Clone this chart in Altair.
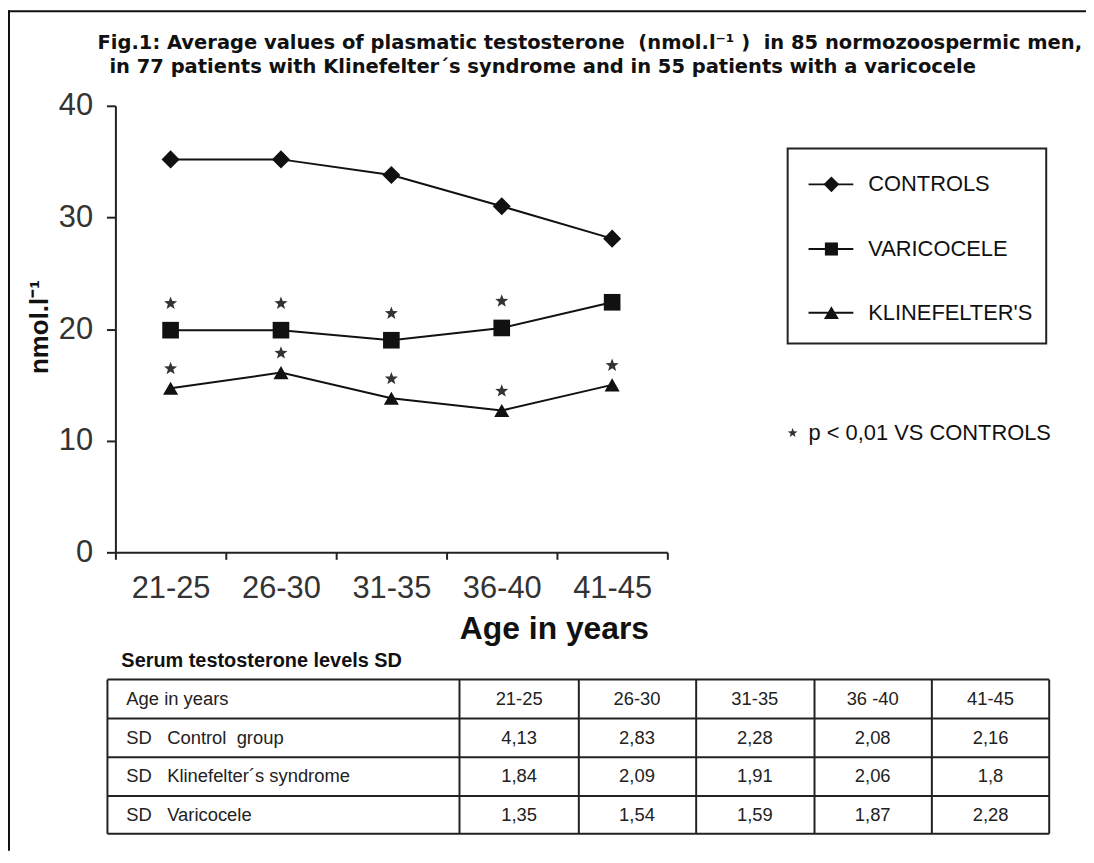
import math
import altair as alt
import pandas as pd

# ---------------- data ----------------
ages = ["21-25", "26-30", "31-35", "36-40", "41-45"]
series_names = ["CONTROLS", "VARICOCELE", "KLINEFELTER'S"]
controls = [35.2, 35.2, 33.8, 31.0, 28.1]
varicocele = [19.9, 19.9, 19.0, 20.1, 22.4]
klinefelter = [14.7, 16.1, 13.8, 12.7, 15.0]
sig_controls = [0, 0, 0, 0, 0]
sig_varicocele = [1, 1, 1, 1, 0]
sig_klinefelter = [1, 1, 1, 1, 1]

table_header = "Age in years"
table_cols = ["21-25", "26-30", "31-35", "36 -40", "41-45"]
table_rows = ["SD\u00a0\u00a0\u00a0Control\u00a0\u00a0group",
              "SD\u00a0\u00a0\u00a0Klinefelter\u00b4s syndrome",
              "SD\u00a0\u00a0\u00a0Varicocele"]
sd_control = [4.13, 2.83, 2.28, 2.08, 2.16]
sd_klinefelter = [1.84, 2.09, 1.91, 2.06, 1.8]
sd_varicocele = [1.35, 1.54, 1.59, 1.87, 2.28]

title_1 = ("Fig.1: Average values of plasmatic testosterone\u00a0\u00a0(nmol.l\u207b\u00b9\u00a0)"
           "\u00a0\u00a0in 85 normozoospermic men,")
title_2 = "in 77 patients with Klinefelter\u00b4s syndrome and in 55 patients with a varicocele"
table_title = "Serum testosterone levels SD"
footnote = "p < 0,01 VS CONTROLS"

# ---------------- style ----------------
FONT = "Liberation Sans, Arial, sans-serif"
TITLE_FONT = "DejaVu Sans, Liberation Sans, sans-serif"
INK = "#111111"
W, H = 555, 449
PAD_L, PAD_T = 108, 96
TOTAL_W, TOTAL_H = 1084, 845
shapes = ["diamond", "square", "triangle-up"]
sizes = [330, 230, 300]
star_offset = {"VARICOCELE": 2.4, "KLINEFELTER'S": 1.75}

pts = []
for k in range(10):
    r = 1.0 if k % 2 == 0 else 0.42
    a = math.radians(-90 + 36 * k)
    pts.append(f"{r*math.cos(a):.4f},{r*math.sin(a):.4f}")
STAR = "M" + "L".join(pts) + "Z"

rows = []
for name, vals, sigs in zip(series_names, [controls, varicocele, klinefelter],
                            [sig_controls, sig_varicocele, sig_klinefelter]):
    for a, v, s in zip(ages, vals, sigs):
        rows.append({"series": name, "age": a, "value": v, "sig": s})
df = pd.DataFrame(rows)
df["star_y"] = df.apply(lambda r: r["value"] + star_offset.get(r["series"], 0), axis=1)

one = pd.DataFrame({"d": [0]})

# ---------------- main plot ----------------
x_axis = alt.Axis(title="Age in years", labelAngle=0, labelFont=FONT, labelFontSize=31,
                  labelColor="#333333", labelPadding=14, tickBand="extent", tickSize=7,
                  tickColor="#222222", tickWidth=2, domainColor="#222222", domainWidth=2,
                  titleFont=FONT, titleFontSize=32, titleFontWeight="bold", titleColor=INK,
                  titleX=441, titleY=87, titleAlign="center", titleBaseline="alphabetic")
y_axis = alt.Axis(values=[0, 10, 20, 30, 40], grid=False, labelFont=FONT, labelFontSize=31,
                  labelColor="#333333", labelPadding=14, tickSize=9, tickColor="#222222",
                  tickWidth=2, domainColor="#222222", domainWidth=2,
                  title="nmol.l\u207b\u00b9", titleFont=FONT, titleFontSize=26,
                  titleFontWeight="bold", titleColor=INK, titleAngle=270, titleX=-76,
                  titleY=222, titleAlign="center", titleBaseline="middle")
x_scale = alt.Scale(type="band", paddingInner=0, paddingOuter=0)
y_scale = alt.Scale(domain=[0, 40], nice=False)
x_enc = alt.X("age:N", sort=ages, scale=x_scale, axis=x_axis)
y_enc = alt.Y("value:Q", scale=y_scale, axis=y_axis)

base = alt.Chart(df)
lines = base.mark_line(color=INK, strokeWidth=2).encode(x=x_enc, y=y_enc, detail="series:N")
points = base.mark_point(filled=True, opacity=1, color=INK).encode(
    x=x_enc, y=y_enc,
    shape=alt.Shape("series:N", scale=alt.Scale(domain=series_names, range=shapes), legend=None),
    size=alt.Size("series:O", scale=alt.Scale(domain=series_names, range=sizes), legend=None),
)
stars = base.transform_filter("datum.sig == 1").mark_point(
    shape=STAR, filled=True, opacity=1, color="#333333", size=190
).encode(x=x_enc, y=alt.Y("star_y:Q", scale=y_scale, axis=y_axis))
main = alt.layer(lines, points, stars)

# ---------------- table ----------------
cells = []
for c in table_cols:
    cells.append({"row": table_header, "col": c, "text": c})
for rlab, vals in zip(table_rows, [sd_control, sd_klinefelter, sd_varicocele]):
    for c, v in zip(table_cols, vals):
        cells.append({"row": rlab, "col": c, "text": f"{v}".replace(".", ",")})
cells_df = pd.DataFrame(cells)
row_order = [table_header] + table_rows
row_y = alt.Y("row:N", scale=alt.Scale(type="point", domain=row_order, range=[596.5, 713], padding=0),
              axis=None)
cell_text = alt.Chart(cells_df).mark_text(font=FONT, fontSize=18.5, color="#222222").encode(
    x=alt.X("col:N", scale=alt.Scale(type="point", domain=table_cols, range=[406, 880], padding=0),
            axis=None),
    y=row_y, text="text:N")
row_text = alt.Chart(pd.DataFrame({"row": row_order})).mark_text(
    font=FONT, fontSize=18.5, color="#222222", align="left").encode(
    x=alt.value(11), y=row_y, text="row:N")
table = alt.layer(cell_text, row_text)

deco = []
hy = [577, 616, 655, 694, 732]
vx = [-8, 346, 466, 584, 703, 821, 939]
for yy in hy:
    deco.append(alt.Chart(one).mark_rule(color="#222222", strokeWidth=2).encode(
        x=alt.value(vx[0]), x2=alt.value(vx[-1]), y=alt.value(yy)))
for xx in vx:
    deco.append(alt.Chart(one).mark_rule(color="#222222", strokeWidth=2).encode(
        x=alt.value(xx), y=alt.value(hy[0]), y2=alt.value(hy[-1])))
deco.append(alt.Chart(one).mark_text(font=FONT, fontSize=20, fontWeight="bold", color=INK,
                                     align="left", baseline="alphabetic").encode(
    x=alt.value(6), y=alt.value(564), text=alt.value(table_title)))

# ---------------- titles & frame ----------------
deco.append(alt.Chart(one).mark_text(font=TITLE_FONT, fontSize=19.6, fontWeight="bold", color=INK,
                                     align="left", baseline="alphabetic").encode(
    x=alt.value(-18), y=alt.value(-57), text=alt.value(title_1)))
deco.append(alt.Chart(one).mark_text(font=TITLE_FONT, fontSize=19.6, fontWeight="bold", color=INK,
                                     align="left", baseline="alphabetic").encode(
    x=alt.value(-6), y=alt.value(-33), text=alt.value(title_2)))
deco.append(alt.Chart(one).mark_rule(color=INK, strokeWidth=2).encode(
    x=alt.value(-PAD_L), x2=alt.value(TOTAL_W - PAD_L), y=alt.value(-PAD_T + 1)))
deco.append(alt.Chart(one).mark_rule(color=INK, strokeWidth=2).encode(
    x=alt.value(-PAD_L + 1), y=alt.value(-PAD_T), y2=alt.value(TOTAL_H - PAD_T)))

# ---------------- legend ----------------
deco.append(alt.Chart(one).mark_rect(fillOpacity=0, stroke="#222222", strokeWidth=2).encode(
    x=alt.value(676), x2=alt.value(936), y=alt.value(43), y2=alt.value(239)))
leg_y = [79, 144, 208]
for name, shp, sz, yy in zip(series_names, shapes, sizes, leg_y):
    deco.append(alt.Chart(one).mark_rule(color=INK, strokeWidth=2).encode(
        x=alt.value(697), x2=alt.value(742), y=alt.value(yy)))
    deco.append(alt.Chart(one).mark_point(shape=shp, filled=True, opacity=1, color=INK,
                                          size=sz * 0.75).encode(
        x=alt.value(720), y=alt.value(yy)))
    deco.append(alt.Chart(one).mark_text(font=FONT, fontSize=22, color=INK, align="left",
                                         baseline="middle").encode(
        x=alt.value(757), y=alt.value(yy), text=alt.value(name)))
deco.append(alt.Chart(one).mark_point(shape=STAR, filled=True, opacity=1, color="#333333",
                                      size=100).encode(x=alt.value(681), y=alt.value(329)))
deco.append(alt.Chart(one).mark_text(font=FONT, fontSize=22, color=INK, align="left",
                                     baseline="middle").encode(
    x=alt.value(697), y=alt.value(329), text=alt.value(footnote)))

chart = alt.layer(main, table, *deco).resolve_scale(
    x="independent", y="independent"
).properties(
    width=W, height=H,
    padding={"left": PAD_L, "top": PAD_T, "right": TOTAL_W - PAD_L - W, "bottom": TOTAL_H - PAD_T - H},
    autosize=alt.AutoSizeParams(type="none"),
    background="white",
).configure_view(stroke=None)

chart.save("out.html", embed_options={"renderer": "svg", "actions": False})
